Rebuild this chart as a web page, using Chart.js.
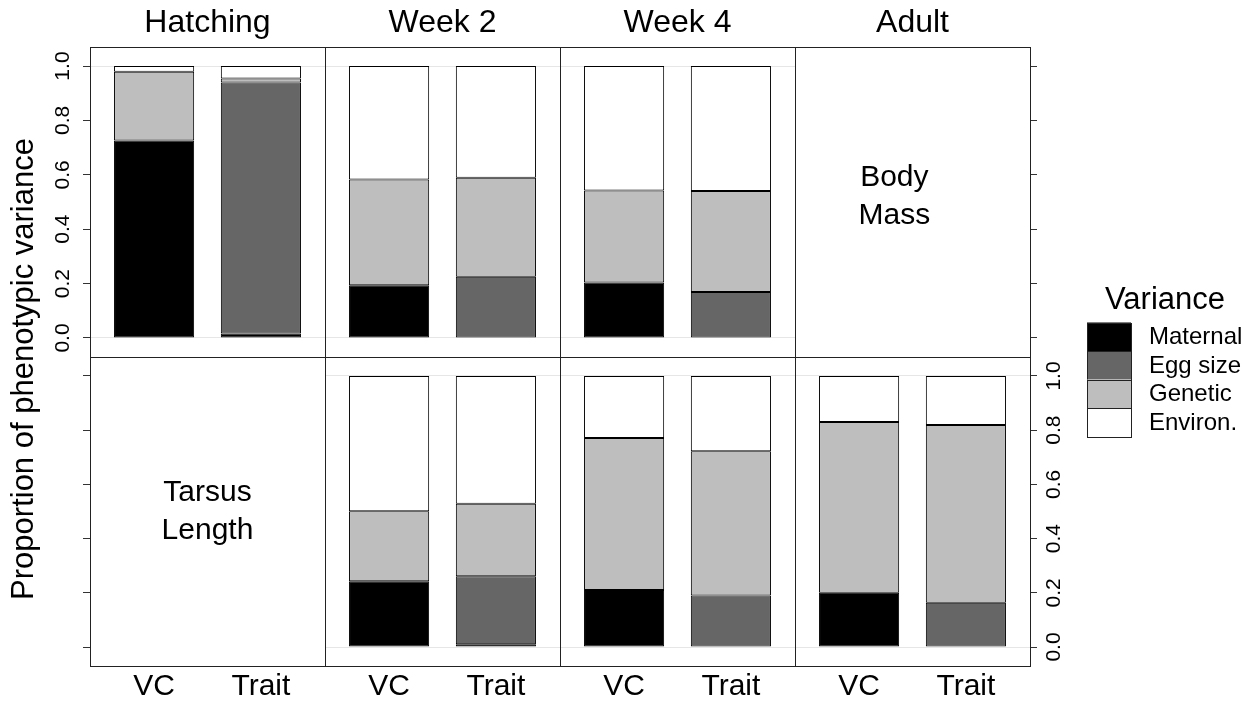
<!DOCTYPE html>
<html>
<head>
<meta charset="utf-8">
<script src="https://cdn.jsdelivr.net/npm/chart.js@4.4.1/dist/chart.umd.min.js"></script>
<style>
  html, body { margin: 0; padding: 0; background: #fff; }
  #wrap { position: relative; width: 1253px; height: 705px; overflow: hidden; }
  #wrap canvas { position: absolute; left: 0; top: 0; }
</style>
</head>
<body>
<div id="wrap"></div>
<script>
const stages = ['Hatching', 'Week 2', 'Week 4', 'Adult'];
const models = ['VC', 'Trait'];
const components = ['Maternal', 'Egg size', 'Genetic', 'Environ.'];
const componentColors = ['#000000', '#666666', '#bebebe', '#ffffff'];
const yTicks = [0, 0.2, 0.4, 0.6, 0.8, 1];
const traitNames = [['Body', 'Mass'], ['Tarsus', 'Length']];

// body mass, one [VC, Trait] pair per stage (null = no panel data)
const massMaternal = [[0.726, 0.016], [0.194, 0], [0.204, 0], null];
const massEgg      = [[0, 0.923], [0, 0.225], [0, 0.169], null];
const massGenetic  = [[0.253, 0.015], [0.389, 0.364], [0.338, 0.371], null];
const massEnviron  = [[0.021, 0.046], [0.417, 0.411], [0.458, 0.460], null];

// tarsus length
const tarsusMaternal = [null, [0.243, 0.010], [0.210, 0], [0.200, 0]];
const tarsusEgg      = [null, [0, 0.251], [0, 0.190], [0, 0.163]];
const tarsusGenetic  = [null, [0.258, 0.268], [0.561, 0.532], [0.630, 0.656]];
const tarsusEnviron  = [null, [0.499, 0.471], [0.229, 0.278], [0.170, 0.181]];

const rows = [
  [massMaternal, massEgg, massGenetic, massEnviron],
  [tarsusMaternal, tarsusEgg, tarsusGenetic, tarsusEnviron]
];

Chart.defaults.font.family = "'Liberation Sans', Arial, Helvetica, sans-serif";
Chart.defaults.color = '#000';

const W = 1253, H = 705;
const colEdges = [90, 325, 560, 795, 1030];
const rowEdges = [47, 357, 666];
const AXIS_W = 40, AXIS_H = 40, STRIP_H = 47;

// frame around each panel + the trait name in the empty panels
const panelDecor = {
  id: 'panelDecor',
  afterDraw(chart, args, opts) {
    const {ctx, chartArea: a} = chart;
    ctx.save();
    if (opts.text) {
      const px = chart.scales.x.getPixelForValue(opts.at.x);
      const py = chart.scales.y.getPixelForValue(opts.at.y);
      ctx.font = "30px 'Liberation Sans', Arial, sans-serif";
      ctx.fillStyle = '#000';
      ctx.textAlign = 'center';
      ctx.textBaseline = 'middle';
      ctx.fillText(opts.text[0], px, py - 19);
      ctx.fillText(opts.text[1], px, py + 19);
    }
    ctx.strokeStyle = '#222';
    ctx.lineWidth = 1;
    ctx.strokeRect(Math.round(a.left) + 0.5, Math.round(a.top) + 0.5,
      Math.round(a.right - a.left), Math.round(a.bottom - a.top));
    ctx.restore();
  }
};

// y axis title and the variance legend
const figureText = {
  id: 'figureText',
  afterDraw(chart) {
    const ctx = chart.ctx;
    ctx.save();
    ctx.fillStyle = '#000';
    ctx.font = "31px 'Liberation Sans', Arial, sans-serif";
    ctx.textAlign = 'center';
    ctx.textBaseline = 'middle';
    ctx.translate(24, 369);
    ctx.rotate(-Math.PI / 2);
    ctx.fillText('Proportion of phenotypic variance', 0, 0);
    ctx.restore();

    ctx.save();
    ctx.font = "31px 'Liberation Sans', Arial, sans-serif";
    ctx.textAlign = 'center';
    ctx.textBaseline = 'middle';
    ctx.fillStyle = '#000';
    ctx.fillText('Variance', 1165, 300);
    const bx = 1087, by = 322.5, bw = 44, bh = 28.5;
    ctx.font = "24px 'Liberation Sans', Arial, sans-serif";
    ctx.textAlign = 'left';
    components.forEach((name, k) => {
      const y = by + k * bh;
      ctx.fillStyle = componentColors[k];
      ctx.fillRect(bx, y, bw, bh);
      ctx.strokeStyle = '#222';
      ctx.lineWidth = 1;
      ctx.strokeRect(bx + 0.5, Math.round(y) + 0.5, bw, Math.round(bh));
      ctx.fillStyle = '#000';
      ctx.fillText(name, 1149, y + bh / 2 + 1);
    });
    ctx.restore();
  }
};

const wrap = document.getElementById('wrap');

function makePanel(row, col) {
  const canvas = document.createElement('canvas');
  canvas.width = W;
  canvas.height = H;
  wrap.appendChild(canvas);

  const parts = rows[row];
  const hasData = parts[0][col] !== null;
  const datasets = hasData ? components.map((name, k) => ({
    label: name,
    data: models.map((m, i) => ({x: i, y: parts[k][col][i]})),
    backgroundColor: componentColors[k],
    borderColor: '#000',
    borderWidth: 1,
    borderSkipped: false,
    barPercentage: 0.75,
    categoryPercentage: 1
  })) : [];

  const ySide = col === 3 ? 'right' : 'left';
  const yMarks = col === 0 || col === 3;
  const yLabels = (row === 0 && col === 0) || (row === 1 && col === 3);
  const xLabels = row === 1;
  const yW = yMarks ? AXIS_W : 0;
  const xH = xLabels ? AXIS_H : 0;

  const padding = {
    left: colEdges[col] - (ySide === 'left' ? yW : 0),
    right: W - colEdges[col + 1] - (ySide === 'right' ? yW : 0),
    top: row === 0 ? rowEdges[0] - STRIP_H : rowEdges[row],
    bottom: H - rowEdges[row + 1] - xH
  };

  let decor = {};
  if (!hasData) {
    decor = row === 0
      ? {text: traitNames[0], at: {x: 0.33, y: 0.52}}
      : {text: traitNames[1], at: {x: 0.5, y: 0.5}};
  }

  const plugins = [panelDecor];
  if (row === 1 && col === 3) plugins.push(figureText);

  return new Chart(canvas, {
    type: 'bar',
    data: {datasets},
    plugins,
    options: {
      responsive: false,
      animation: false,
      events: [],
      layout: {padding, autoPadding: false},
      plugins: {
        legend: {display: false},
        tooltip: {enabled: false},
        title: {
          display: row === 0,
          text: stages[col],
          fullSize: false,
          font: {size: 32, weight: 'normal', lineHeight: 1.2},
          color: '#000',
          padding: {top: 4, bottom: STRIP_H - 4 - 32 * 1.2}
        },
        panelDecor: decor
      },
      scales: {
        x: {
          type: 'linear',
          bounds: 'data',
          offset: false,
          min: -0.6,
          max: 1.6,
          stacked: true,
          position: 'bottom',
          afterBuildTicks: s => { s.ticks = models.map((m, i) => ({value: i})); },
          afterFit: s => { s.height = xH; },
          ticks: {
            display: xLabels,
            autoSkip: false,
            maxRotation: 0,
            padding: 3,
            font: {size: 30},
            callback: v => models[v]
          },
          grid: {display: false, drawTicks: false, offset: false},
          border: {display: false}
        },
        y: {
          type: 'linear',
          bounds: 'data',
          min: -0.07,
          max: 1.07,
          stacked: true,
          position: ySide,
          afterBuildTicks: s => { s.ticks = yTicks.map(v => ({value: v})); },
          afterFit: s => { s.width = yW; },
          ticks: {
            display: yLabels,
            autoSkip: false,
            minRotation: 90,
            maxRotation: 90,
            crossAlign: 'center',
            padding: ySide === 'left' ? 5 : 3,
            font: {size: 21},
            callback: v => v.toFixed(1)
          },
          grid: {
            display: true,
            drawOnChartArea: hasData,
            drawTicks: yMarks,
            tickLength: 7,
            tickColor: '#333',
            lineWidth: 1,
            color: c => (c.tick && (c.tick.value === 0 || c.tick.value === 1)) ? '#e6e6e6' : 'rgba(0,0,0,0)'
          },
          border: {display: false}
        }
      }
    }
  });
}

for (let r = 0; r < 2; r++) {
  for (let c = 0; c < 4; c++) makePanel(r, c);
}
</script>
</body>
</html>
